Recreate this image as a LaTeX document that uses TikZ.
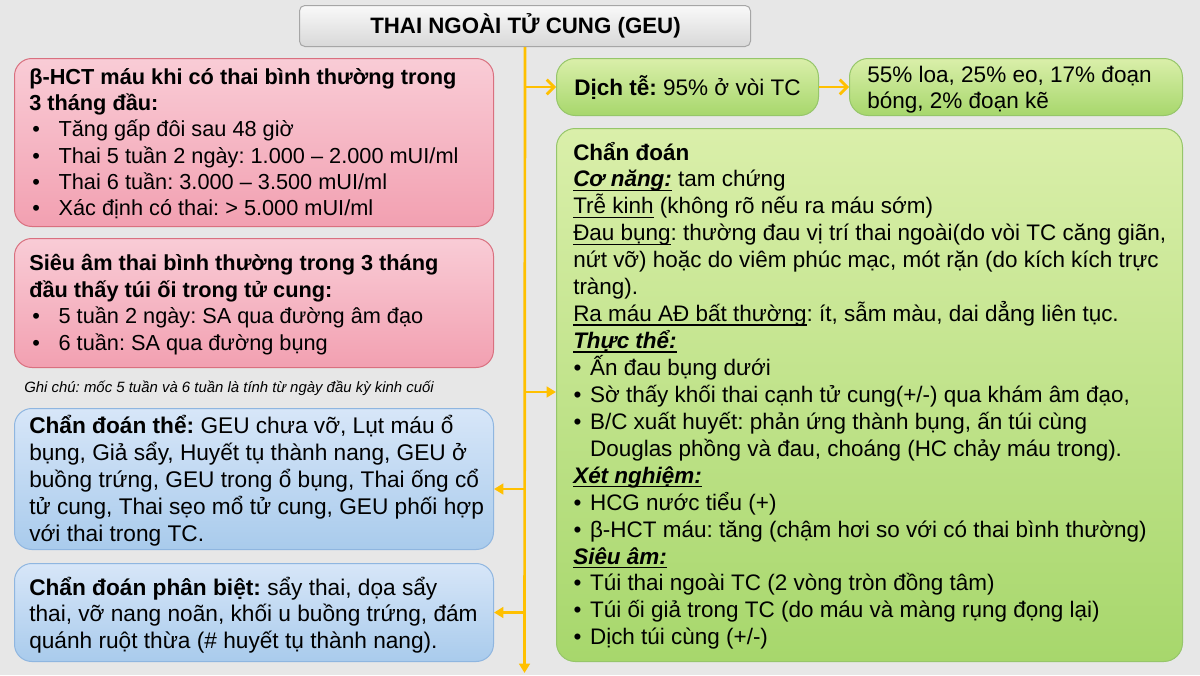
\documentclass[tikz,border=0pt]{standalone}
\usepackage{fontspec}
\setmainfont{Liberation Sans}
\usetikzlibrary{arrows.meta}
\frenchspacing
\definecolor{bgc}{HTML}{E7E7E7}
\definecolor{pinkT}{HTML}{F9CCD6}
\definecolor{pinkB}{HTML}{F2A0B1}
\definecolor{pinkD}{HTML}{D9707F}
\definecolor{blueT}{HTML}{D7E6F8}
\definecolor{blueB}{HTML}{A9CBEC}
\definecolor{blueD}{HTML}{8FB6E0}
\definecolor{greenT}{HTML}{DAEFAA}
\definecolor{greenB}{HTML}{A7D76C}
\definecolor{greenD}{HTML}{96C66A}
\definecolor{titleT}{HTML}{F9F9F9}
\definecolor{titleB}{HTML}{D8D8D8}
\definecolor{titleD}{HTML}{A6A6A6}
\definecolor{conc}{HTML}{FFC000}
\newcommand{\bp}{\par\noindent\hangindent=22pt\hangafter=1\makebox[22pt][l]{\hspace{2.25pt}\textbullet}\ignorespaces}
\newcommand{\bq}{\par\noindent\hangindent=12.6pt\hangafter=1\makebox[12.6pt][l]{\hspace{0.3pt}\textbullet}\ignorespaces}
\newcommand{\myul}[1]{\setbox0\hbox{#1}\rlap{\rule[-3.1pt]{\wd0}{1.05pt}}\box0\relax}
\newcommand{\ub}[1]{\myul{\textbf{\textit{#1}}}}
\begin{document}
\begin{tikzpicture}[x=0.75pt,y=-0.75pt,
  box/.style={draw, line width=0.75pt, inner sep=0pt, anchor=north west},
  pinkbox/.style={box, draw=pinkD, top color=pinkT, bottom color=pinkB, rounded corners=13pt},
  bluebox/.style={box, draw=blueD, top color=blueT, bottom color=blueB, rounded corners=13pt},
  greenbox/.style={box, draw=greenD, top color=greenT, bottom color=greenB, rounded corners=14pt},
  titlebox/.style={box, draw=titleD, top color=titleT, bottom color=titleB, rounded corners=4pt},
  txt/.style={inner sep=0pt, anchor=base west, align=left},
  conn/.style={draw=conc, line width=2pt},
  tri/.style={-{Triangle[length=7pt,width=8pt]}},
  barb/.style={-{Straight Barb[length=5.5pt,width=11pt,line width=2pt]}}
]
\useasboundingbox (0,0) rectangle (1200,675);
\fill[bgc] (0,0) rectangle (1200,675);

% boxes
\node[titlebox, minimum width=338.25pt, minimum height=30.75pt] (title) at (299,5) {};
\node[pinkbox, minimum width=359.25pt, minimum height=126pt] (p1) at (14,58) {};
\node[pinkbox, minimum width=359.25pt, minimum height=96.75pt] (p2) at (14,238) {};
\node[bluebox, minimum width=359.25pt, minimum height=105.75pt] (b1) at (14,408) {};
\node[bluebox, minimum width=359.25pt, minimum height=73.5pt] (b2) at (14,563) {};
\node[greenbox, minimum width=196.5pt, minimum height=42.75pt] (dich) at (556,58) {};
\node[greenbox, minimum width=249.75pt, minimum height=42.75pt] (loai) at (849,58) {};
\node[greenbox, minimum width=469.5pt, minimum height=399.75pt] (big) at (556,128) {};

% connectors
\coordinate (bot) at (524.5,673);
\coordinate (j3) at (524.5,392);
\coordinate (j4) at (524.5,489);
\draw[conn, tri] (title.south) -- (bot);
\draw[conn, barb] (title.south |- dich.west) -- (dich.west);
\draw[conn, barb] (dich.east) -- (loai.west);
\draw[conn, tri] (j3) -- (j3 -| big.west);
\draw[conn, tri] (j4) -- (j4 -| b1.east);
\draw[conn, tri] (title.south |- b2.east) -- (b2.east);

% texts
\node[txt] (ttitle) at (370,33) {\fontsize{16.7pt}{20pt}\selectfont\textbf{THAI NGOÀI TỬ CUNG (GEU)}};

\node[txt] (tp1) at (29,84.5) {\begin{minipage}[t]{420pt}\raggedright\fontsize{16.3pt}{19.65pt}\selectfont\lineskiplimit=-100pt
\noindent\textbf{β-HCT máu khi có thai bình thường trong}\newline\textbf{3 tháng đầu:}
\bp Tăng gấp đôi sau 48 giờ
\bp Thai 5 tuần 2 ngày: 1.000 – 2.000 mUI/ml
\bp Thai 6 tuần: 3.000 – 3.500 mUI/ml
\bp Xác định có thai: > 5.000 mUI/ml
\end{minipage}};

\node[txt] (tp2) at (29,270.5) {\begin{minipage}[t]{420pt}\raggedright\fontsize{16.3pt}{20pt}\selectfont\lineskiplimit=-100pt
\noindent\textbf{Siêu âm thai bình thường trong 3 tháng}\newline\textbf{đầu thấy túi ối trong tử cung:}
\bp 5 tuần 2 ngày: SA qua đường âm đạo
\bp 6 tuần: SA qua đường bụng
\end{minipage}};

\node[txt] (note) at (24,392) {\fontsize{11.2pt}{13pt}\selectfont\textit{Ghi chú: mốc 5 tuần và 6 tuần là tính từ ngày đầu kỳ kinh cuối}};

\node[txt] (tb1) at (29,433) {\begin{minipage}[t]{420pt}\raggedright\fontsize{17pt}{20.4pt}\selectfont\lineskiplimit=-100pt
\noindent\textbf{Chẩn đoán thể:} GEU chưa vỡ, Lụt máu ổ\newline bụng, Giả sẩy, Huyết tụ thành nang, GEU ở\newline buồng trứng, GEU trong ổ bụng, Thai ống cổ\newline tử cung, Thai sẹo mổ tử cung, GEU phối hợp\newline với thai trong TC.
\end{minipage}};

\node[txt] (tb2) at (29,595) {\begin{minipage}[t]{420pt}\raggedright\fontsize{17pt}{19.9pt}\selectfont\lineskiplimit=-100pt
\noindent\textbf{Chẩn đoán phân biệt:} sẩy thai, dọa sẩy\newline thai, vỡ nang noãn, khối u buồng trứng, đám\newline quánh ruột thừa (\# huyết tụ thành nang).
\end{minipage}};

\node[txt] (tdich) at (574,95) {\fontsize{16.9pt}{19.5pt}\selectfont\textbf{Dịch tễ:} 95\% ở vòi TC};

\node[txt] (tloai) at (867,82) {\begin{minipage}[t]{300pt}\raggedright\fontsize{16.9pt}{19.5pt}\selectfont\lineskiplimit=-100pt
\noindent 55\% loa, 25\% eo, 17\% đoạn\newline bóng, 2\% đoạn kẽ
\end{minipage}};

\node[txt] (tbig) at (573,160) {\begin{minipage}[t]{520pt}\raggedright\fontsize{16.85pt}{20.2pt}\selectfont\lineskiplimit=-100pt
\noindent\textbf{Chẩn đoán}
\par\noindent\ub{Cơ năng:} tam chứng
\par\noindent\myul{Trễ kinh} (không rõ nếu ra máu sớm)
\par\noindent\myul{Đau bụng}: thường đau vị trí thai ngoài(do vòi TC căng giãn,\newline nứt vỡ) hoặc do viêm phúc mạc, mót rặn (do kích kích trực\newline tràng).
\par\noindent\myul{Ra máu AĐ bất thường}: ít, sẫm màu, dai dẳng liên tục.
\par\noindent\ub{Thực thể:}
\bq Ấn đau bụng dưới
\bq Sờ thấy khối thai cạnh tử cung(+/-) qua khám âm đạo,
\bq B/C xuất huyết: phản ứng thành bụng, ấn túi cùng\newline Douglas phồng và đau, choáng (HC chảy máu trong).
\par\noindent\ub{Xét nghiệm:}
\bq HCG nước tiểu (+)
\bq β-HCT máu: tăng (chậm hơi so với có thai bình thường)
\par\noindent\ub{Siêu âm:}
\bq Túi thai ngoài TC (2 vòng tròn đồng tâm)
\bq Túi ối giả trong TC (do máu và màng rụng đọng lại)
\bq Dịch túi cùng (+/-)
\end{minipage}};
\end{tikzpicture}
\end{document}
